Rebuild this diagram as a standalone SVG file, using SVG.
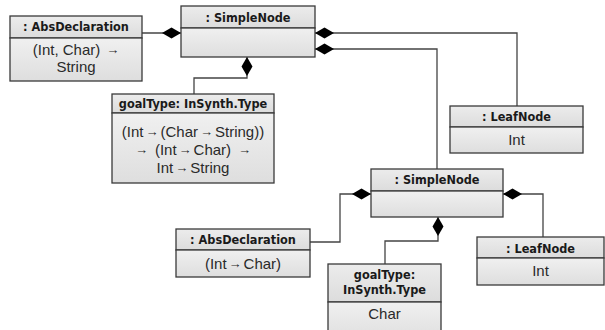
<svg xmlns="http://www.w3.org/2000/svg" width="605" height="330" viewBox="0 0 605 330">
<defs>
<linearGradient id="gb" x1="0" y1="0" x2="0" y2="1"><stop offset="0" stop-color="#f0f0f0"/><stop offset="1" stop-color="#dedede"/></linearGradient>
<linearGradient id="gt" x1="0" y1="0" x2="0" y2="1"><stop offset="0" stop-color="#ececec"/><stop offset="1" stop-color="#dcdcdc"/></linearGradient>
<marker id="dia" markerUnits="userSpaceOnUse" markerWidth="20" markerHeight="12" viewBox="0 -6 20 12" refX="0" refY="0" orient="auto"><path d="M0,0 L9.5,-5.5 L19,0 L9.5,5.5 Z" fill="#000"/></marker>
<style>
.box{stroke:#3a3a3a;stroke-width:1.3}
.tt{fill:url(#gt)}
.bd{fill:url(#gb)}
.t{font-family:"DejaVu Sans Condensed","DejaVu Sans",sans-serif;font-weight:bold;font-size:12.6px;fill:#1a1a1a;text-anchor:middle}
.b{font-family:"Liberation Sans",Arial,sans-serif;font-size:15px;fill:#2a2a2a;text-anchor:middle}
.a{font-size:13px}
.c{fill:none;stroke:#444;stroke-width:1.3;marker-start:url(#dia)}
</style>
</defs>
<g id="connectors">
<path class="c" d="M181,33 L142,33"/>
<path class="c" d="M315,33 L517,33 L517,106"/>
<path class="c" d="M315,49 L437,49 L437,169"/>
<path class="c" d="M247,57 L247,78 L194,78 L194,94"/>
<path class="c" d="M371,194 L340,194 L340,242 L310,242"/>
<path class="c" d="M438,217 L438,241 L385,241 L385,264"/>
<path class="c" d="M503,194 L543,194 L543,237"/>
</g>
<g id="absdecl1">
<rect class="box tt" x="10" y="16" width="132" height="22"/>
<rect class="box bd" x="10" y="38" width="132" height="43"/>
<text class="t" x="76" y="31">: AbsDeclaration</text>
<text class="b" x="76" y="55">(Int, Char)<tspan class="a" dx="6" dy="-1">→</tspan></text>
<text class="b" x="76" y="72">String</text>
</g>
<g id="simplenode1">
<rect class="box tt" x="181" y="6" width="134" height="22"/>
<rect class="box bd" x="181" y="28" width="134" height="29"/>
<text class="t" x="248" y="22">: SimpleNode</text>
</g>
<g id="goaltype1">
<rect class="box tt" x="112" y="94" width="162" height="19"/>
<rect class="box bd" x="112" y="113" width="162" height="70"/>
<text class="t" x="193" y="108">goalType: InSynth.Type</text>
<text class="b" x="193" y="137">(Int<tspan class="a" dx="2" dy="-1">→</tspan><tspan dx="2" dy="1">(Char</tspan><tspan class="a" dx="2" dy="-1">→</tspan><tspan dx="2" dy="1">String))</tspan></text>
<text class="b" x="193" y="155"><tspan class="a" dy="-1">→</tspan><tspan dx="7" dy="1">(Int</tspan><tspan class="a" dx="2" dy="-1">→</tspan><tspan dx="2" dy="1">Char)</tspan><tspan class="a" dx="7" dy="-1">→</tspan></text>
<text class="b" x="193" y="173">Int<tspan class="a" dx="2" dy="-1">→</tspan><tspan dx="2" dy="1">String</tspan></text>
</g>
<g id="leafnode1">
<rect class="box tt" x="450" y="106" width="133" height="21"/>
<rect class="box bd" x="450" y="127" width="133" height="26"/>
<text class="t" x="516.5" y="121">: LeafNode</text>
<text class="b" x="516.5" y="145">Int</text>
</g>
<g id="simplenode2">
<rect class="box tt" x="371" y="169" width="132" height="22"/>
<rect class="box bd" x="371" y="191" width="132" height="26"/>
<text class="t" x="437" y="184">: SimpleNode</text>
</g>
<g id="absdecl2">
<rect class="box tt" x="176" y="229" width="134" height="21"/>
<rect class="box bd" x="176" y="250" width="134" height="27"/>
<text class="t" x="243" y="244">: AbsDeclaration</text>
<text class="b" x="243" y="269">(Int<tspan class="a" dx="2" dy="-1">→</tspan><tspan dx="2" dy="1">Char)</tspan></text>
</g>
<g id="goaltype2">
<rect class="box tt" x="328" y="264" width="113" height="38"/>
<rect class="box bd" x="328" y="302" width="113" height="40"/>
<text class="t" x="384.5" y="279">goalType:</text>
<text class="t" x="384.5" y="294">InSynth.Type</text>
<text class="b" x="384.5" y="319">Char</text>
</g>
<g id="leafnode2">
<rect class="box tt" x="477" y="237" width="127" height="21"/>
<rect class="box bd" x="477" y="258" width="127" height="27"/>
<text class="t" x="540.5" y="253">: LeafNode</text>
<text class="b" x="540.5" y="276">Int</text>
</g>
</svg>
